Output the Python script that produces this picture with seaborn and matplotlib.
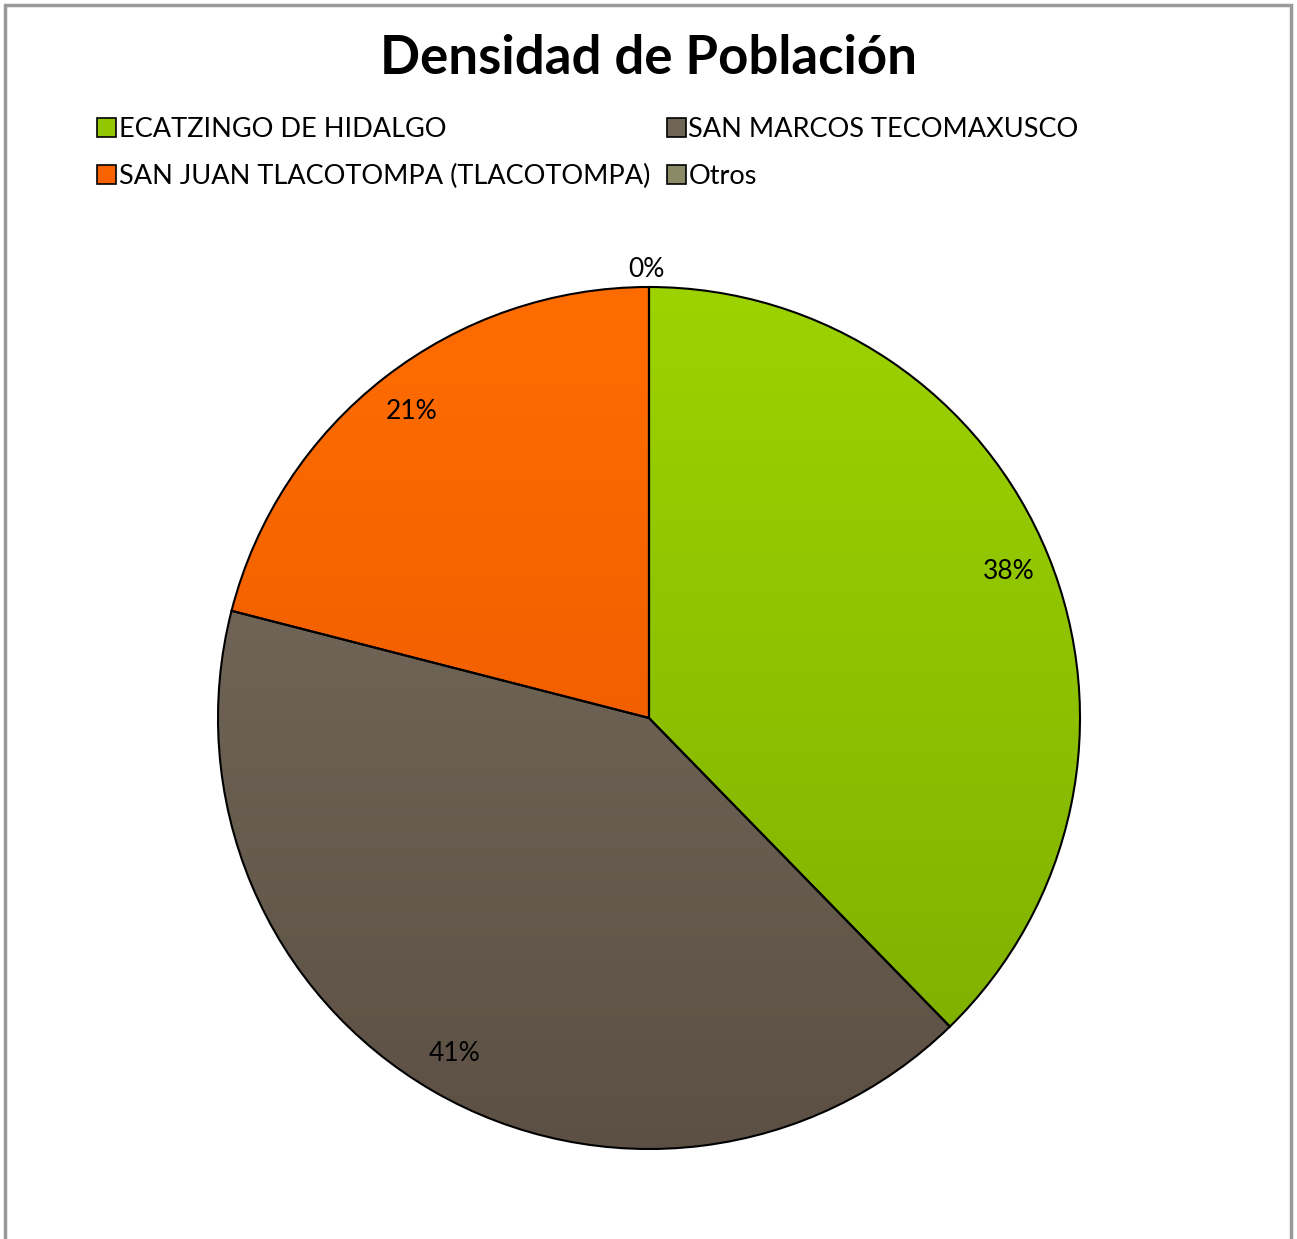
import numpy as np
import seaborn as sns
import matplotlib.pyplot as plt
from matplotlib.colors import LinearSegmentedColormap
from matplotlib.patches import Rectangle

# data
labels = ["ECATZINGO DE HIDALGO", "SAN MARCOS TECOMAXUSCO",
          "SAN JUAN TLACOTOMPA (TLACOTOMPA)", "Otros"]
values = [37.7, 41.3, 21.0, 0.0]
colors = ["#93C800", "#6F6556", "#F86200", "#8A8A66"]
top_colors = ["#9DD300", "#7B7162", "#FF6D00", "#94946E"]
bottom_colors = ["#7CAC00", "#5B5043", "#E45200", "#7A7A58"]

sns.set_theme(style="white")
plt.rcParams['font.family'] = ['Lato', 'DejaVu Sans']
plt.rcParams['text.color'] = 'black'

fig = plt.figure(figsize=(12.97, 12.39), dpi=100)
fig.patch.set_facecolor("white")

# chart frame
fig.patches.append(Rectangle((5 / 1297, -0.01), 1286 / 1297, 1 - 5 / 1239 + 0.01,
                             transform=fig.transFigure, fill=False,
                             edgecolor="#9A9A9A", linewidth=2.5))

cx, cy, r = 649, 718, 431
ax = fig.add_axes([(cx - r) / 1297, (1239 - cy - r) / 1239, 2 * r / 1297, 2 * r / 1239])

wedges, texts, autotexts = ax.pie(values, colors=colors, startangle=90, counterclock=False,
                                  autopct="%1.0f%%", pctdistance=0.9,
                                  wedgeprops=dict(edgecolor="black", linewidth=1.5),
                                  textprops=dict(fontsize=19, color="black"))
ax.set_xlim(-1, 1)
ax.set_ylim(-1, 1)
ax.set_aspect("auto")

# vertical gradient in each slice
for w, c1, c2 in zip(wedges, top_colors, bottom_colors):
    cmap = LinearSegmentedColormap.from_list("g", [c2, c1])
    grad = np.linspace(0, 1, 256).reshape(-1, 1)
    im = ax.imshow(grad, extent=(-1, 1, -1, 1), origin="lower", cmap=cmap,
                   aspect="auto", zorder=w.get_zorder() + 0.1)
    im.set_clip_path(w)
    w.set_zorder(w.get_zorder() + 0.2)
    w.set_facecolor("none")
ax.set_xlim(-1, 1)
ax.set_ylim(-1, 1)

# the 0% label sits just outside the pie
w = wedges[-1]
mid = np.deg2rad((w.theta1 + w.theta2) / 2)
autotexts[-1].set_position((1.04 * np.cos(mid) - 0.005, 1.04 * np.sin(mid)))
for t in autotexts:
    t.set_zorder(10)

fig.text(0.5, 1 - 58 / 1239, "Densidad de Población", ha="center", va="center",
         fontsize=38, fontweight="bold", color="black")

order = [0, 2, 1, 3]
leg = fig.legend([wedges[i] for i in order], [labels[i] for i in order],
                 loc="upper left", bbox_to_anchor=(73 / 1297, 1 - 93 / 1239),
                 ncol=2, frameon=False, fontsize=19.5, handlelength=0.7, handleheight=0.7,
                 handletextpad=0.1, columnspacing=0.6, labelspacing=0.8)
for h, i in zip(leg.legend_handles, order):
    h.set_facecolor(colors[i])
    h.set_edgecolor("black")
    h.set_linewidth(1.2)
for t in leg.get_texts():
    t.set_color("black")

fig.savefig("out.png", dpi=100, facecolor="white")
